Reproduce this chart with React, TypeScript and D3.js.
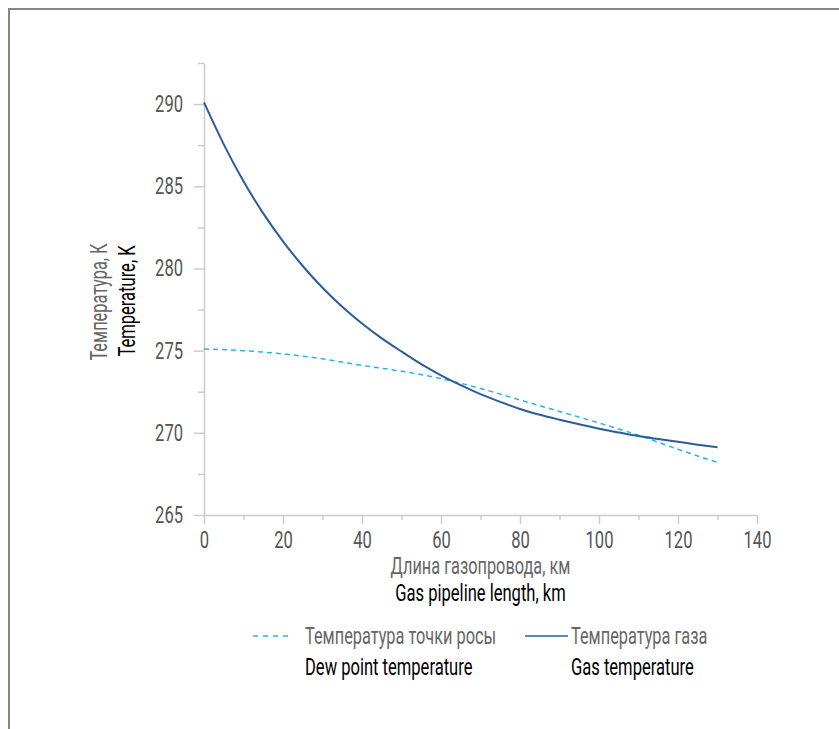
import React, { useEffect, useRef } from 'react'
import * as d3 from 'd3'

// distance along the pipeline, km
const gasKm = [0, 5, 10, 15, 20, 25, 30, 35, 40, 45, 50, 55, 60, 65, 70, 75, 80, 85, 90, 95, 100, 105, 110, 115, 120, 125, 130]
const gasTempK = [290.1, 287.55, 285.3, 283.35, 281.65, 280.15, 278.83, 277.67, 276.65, 275.75, 274.95, 274.18, 273.5, 272.9, 272.35, 271.88, 271.45, 271.1, 270.8, 270.52, 270.25, 270.02, 269.8, 269.62, 269.45, 269.28, 269.12]

const dewKm = [0, 10, 20, 30, 40, 50, 60, 70, 80, 90, 100, 110, 120, 130]
const dewPointK = [275.1, 275.0, 274.8, 274.5, 274.1, 273.75, 273.3, 272.7, 272.0, 271.3, 270.6, 269.85, 269.0, 268.2]

const yMajorTicks = [265, 270, 275, 280, 285, 290]
const yMinorTicks = [267.5, 272.5, 277.5, 282.5, 287.5, 292.5]
const xMajorTicks = [0, 20, 40, 60, 80, 100, 120, 140]
const xMinorTicks = [10, 30, 50, 70, 90, 110, 130]

const xTitle = ['Длина газопровода, км', 'Gas pipeline length, km']
const yTitle = ['Температура, К', 'Temperature, K']
const legendRu = ['Температура точки росы', 'Температура газа']
const legendEn = ['Dew point temperature', 'Gas temperature']

const W = 839
const H = 729
const FONT = 'Roboto, sans-serif'
const FS = 23
const SX_EN = 0.72 // condensed look, latin + digits
const SX_RU = 0.71
const GREY = '#666'
const AXIS = '#cccccc'
const DEW = '#29b3e6'
const GAS = '#2c5c9c'

export default function App() {
  const ref = useRef<SVGSVGElement>(null)

  useEffect(() => {
    const svg = d3.select(ref.current)
    svg.selectAll('*').remove()

    // frame
    svg.append('rect')
      .attr('x', 9).attr('y', 9)
      .attr('width', 1000).attr('height', 1000)
      .attr('fill', 'none')
      .attr('stroke', '#8a8580')
      .attr('stroke-width', 2)

    const x = d3.scaleLinear().domain([0, 140]).range([204, 757])
    const y = d3.scaleLinear().domain([265, 292.5]).range([515, 63])

    const styleAxis = (g: any) => {
      g.selectAll('path, line').attr('stroke', AXIS).attr('stroke-width', 1.5)
      g.selectAll('text').each(function (this: any) {
        const t = d3.select(this)
        const tx = +(t.attr('x') || 0)
        t.attr('x', 0)
          .attr('transform', `translate(${tx},0) scale(${SX_EN},1)`)
          .attr('font-family', FONT)
          .attr('font-size', FS)
          .attr('fill', '#555')
      })
    }

    // y axis
    svg.append('g')
      .attr('transform', `translate(${x(0)},0)`)
      .call(d3.axisLeft(y).tickValues(yMinorTicks).tickSize(6).tickSizeOuter(0).tickFormat(() => ''))
      .call(styleAxis)
    svg.append('g')
      .attr('transform', `translate(${x(0)},0)`)
      .call(d3.axisLeft(y).tickValues(yMajorTicks).tickSize(10).tickSizeOuter(0).tickPadding(11).tickFormat(d3.format('d')))
      .call(styleAxis)
      .call((g: any) => g.select('.domain').remove())

    // x axis
    svg.append('g')
      .attr('transform', `translate(0,${y(265)})`)
      .call(d3.axisBottom(x).tickValues(xMinorTicks).tickSize(5).tickSizeOuter(0).tickFormat(() => ''))
      .call(styleAxis)
    svg.append('g')
      .attr('transform', `translate(0,${y(265)})`)
      .call(d3.axisBottom(x).tickValues(xMajorTicks).tickSize(9).tickSizeOuter(0).tickPadding(8).tickFormat(d3.format('d')))
      .call(styleAxis)
      .call((g: any) => g.select('.domain').remove())

    const label = (tx: number, ty: number, text: string, fill: string, sx: number, anchor = 'start', rotate = 0) => {
      svg.append('text')
        .attr('transform', `translate(${tx},${ty}) rotate(${rotate}) scale(${sx},1)`)
        .attr('text-anchor', anchor)
        .attr('font-family', FONT)
        .attr('font-size', FS)
        .attr('fill', fill)
        .text(text)
    }

    // axis titles
    const xc = (x(0) + x(140)) / 2
    label(xc, 574, xTitle[0], GREY, SX_RU, 'middle')
    label(xc, 601, xTitle[1], '#000', SX_EN, 'middle')
    label(107, 302, yTitle[0], GREY, SX_RU, 'middle', -90)
    label(135, 301, yTitle[1], '#000', SX_EN, 'middle', -90)

    // series
    const dewLine = d3.line<number>()
      .x((_, i) => x(dewKm[i]))
      .y((d) => y(d))
      .curve(d3.curveMonotoneX)
    const gasLine = d3.line<number>()
      .x((_, i) => x(gasKm[i]))
      .y((d) => y(d))
      .curve(d3.curveMonotoneX)

    svg.append('path')
      .attr('d', dewLine(dewPointK))
      .attr('fill', 'none')
      .attr('stroke', DEW)
      .attr('stroke-width', 1.5)
      .attr('stroke-dasharray', '5,4')
    svg.append('path')
      .attr('d', gasLine(gasTempK))
      .attr('fill', 'none')
      .attr('stroke', GAS)
      .attr('stroke-width', 2)

    // legend
    svg.append('line')
      .attr('x1', 253).attr('x2', 291).attr('y1', 636).attr('y2', 636)
      .attr('stroke', DEW).attr('stroke-width', 1.5).attr('stroke-dasharray', '5,5')
    label(305, 644, legendRu[0], GREY, SX_RU)
    label(305, 675, legendEn[0], '#000', SX_EN)

    svg.append('line')
      .attr('x1', 525).attr('x2', 568).attr('y1', 636).attr('y2', 636)
      .attr('stroke', GAS).attr('stroke-width', 1.5)
    label(571, 644, legendRu[1], GREY, SX_RU)
    label(571, 675, legendEn[1], '#000', SX_EN)
  }, [])

  return (
    <div style={{ position: 'absolute', left: 0, top: 0 }}>
      <svg ref={ref} width={W} height={H} style={{ display: 'block', background: '#fff' }} />
    </div>
  )
}
